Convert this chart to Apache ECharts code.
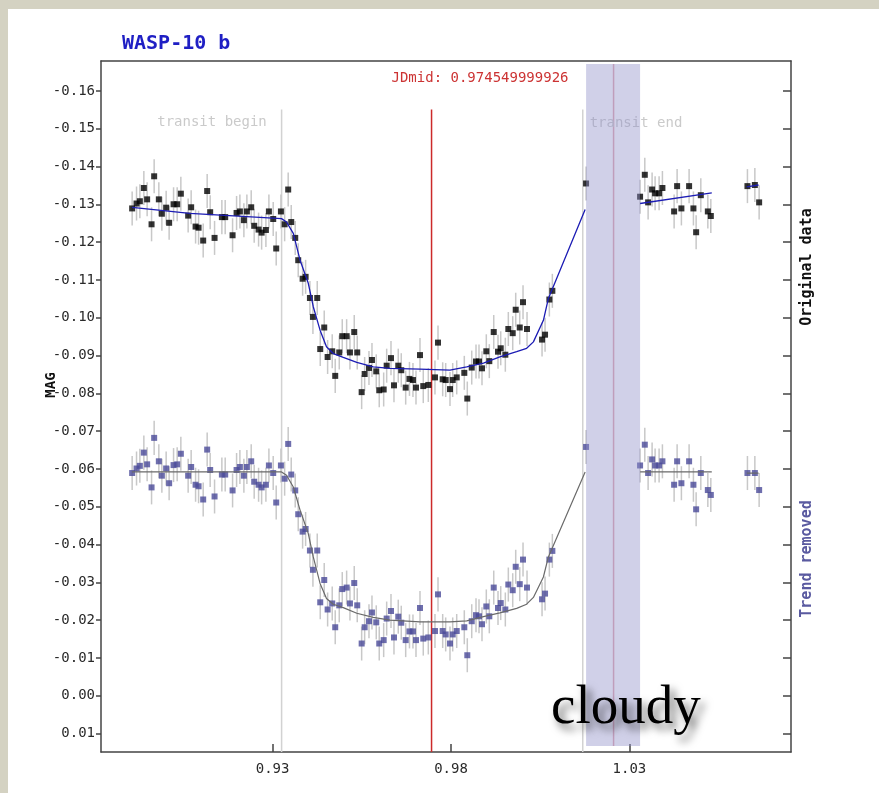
<!DOCTYPE html>
<html>
<head>
<meta charset="utf-8">
<title>WASP-10 b</title>
<script src="https://cdn.jsdelivr.net/npm/echarts@6/dist/echarts.min.js"></script>
<style>
    html, body { margin: 0; padding: 0; width: 879px; height: 793px; background: #d4d2c2; overflow: hidden; }
    #lc_con { position: absolute; left: 8px; top: 9px; width: 871px; height: 784px; background: #fff; }
</style>
</head>
<body>
<div id="lc_con"></div>
<script>
// time (JD - 2455xxx) shared by both light curves
const jd = [0.89063,0.89186,0.89279,0.89391,0.89483,0.89607,0.89680,0.89811,0.89896,0.90016,
    0.90100,0.90224,0.90325,0.90428,0.90633,0.90717,0.90841,0.90925,0.91054,0.91166,
    0.91250,0.91373,0.91578,0.91671,0.91878,0.91990,0.92083,0.92195,0.92279,0.92400,
    0.92484,0.92607,0.92692,0.92812,0.92896,0.93017,0.93101,0.93233,0.93337,0.93437,
    0.93522,0.93634,0.93718,0.93841,0.93925,0.94046,0.94130,0.94251,0.94335,0.94447,
    0.94542,0.94671,0.94755,0.94868,0.94952,0.95075,0.95168,0.95288,0.95372,0.95496,
    0.95580,0.95701,0.95785,0.95905,0.95989,0.96113,0.96197,0.96318,0.96402,0.96522,
    0.96606,0.96730,0.96836,0.96934,0.97019,0.97131,0.97223,0.97364,0.97551,0.97636,
    0.97767,0.97851,0.97972,0.98048,0.98160,0.98373,0.98457,0.98581,0.98701,0.98785,
    0.98869,0.98990,0.99074,0.99198,0.99318,0.99394,0.99523,0.99607,0.99730,0.99814,
    0.99927,1.00019,1.00131,1.00552,1.00636,1.00757,1.00841,1.01786,1.03300,1.03432,
    1.03525,1.03637,1.03721,1.03833,1.03926,1.04254,1.04338,1.04458,1.04674,1.04795,
    1.04871,1.05002,1.05199,1.05283,1.06309,1.06517,1.06637];

const magOriginal = [-0.1289,-0.1302,-0.1308,-0.1343,-0.1313,-0.1247,-0.1374,-0.1313,-0.1275,-0.1291,
    -0.1251,-0.1300,-0.1300,-0.1328,-0.1270,-0.1292,-0.1241,-0.1238,-0.1204,-0.1335,
    -0.1279,-0.1211,-0.1266,-0.1266,-0.1218,-0.1277,-0.1281,-0.1258,-0.1281,-0.1292,
    -0.1243,-0.1233,-0.1225,-0.1232,-0.1281,-0.1261,-0.1183,-0.1281,-0.1247,-0.1339,
    -0.1253,-0.1211,-0.1152,-0.1103,-0.1108,-0.1052,-0.1002,-0.1052,-0.0917,-0.0974,
    -0.0896,-0.0911,-0.0846,-0.0908,-0.0951,-0.0951,-0.0908,-0.0962,-0.0908,-0.0803,
    -0.0851,-0.0867,-0.0888,-0.0858,-0.0808,-0.0810,-0.0873,-0.0893,-0.0821,-0.0873,
    -0.0861,-0.0815,-0.0838,-0.0835,-0.0815,-0.0901,-0.0819,-0.0822,-0.0842,-0.0934,
    -0.0837,-0.0835,-0.0811,-0.0835,-0.0842,-0.0854,-0.0786,-0.0868,-0.0884,-0.0884,
    -0.0866,-0.0911,-0.0885,-0.0962,-0.0910,-0.0919,-0.0902,-0.0970,-0.0959,-0.1021,
    -0.0974,-0.1041,-0.0970,-0.0942,-0.0955,-0.1048,-0.1071,-0.1355,-0.1320,-0.1378,
    -0.1305,-0.1339,-0.1329,-0.1329,-0.1343,-0.1281,-0.1348,-0.1289,-0.1348,-0.1289,
    -0.1226,-0.1324,-0.1281,-0.1269,-0.1348,-0.1351,-0.1305];

const magDetrended = [-0.0589,-0.0601,-0.0608,-0.0643,-0.0612,-0.0551,-0.0682,-0.0620,-0.0582,-0.0601,
    -0.0562,-0.0610,-0.0612,-0.0640,-0.0582,-0.0605,-0.0558,-0.0554,-0.0519,-0.0651,
    -0.0597,-0.0527,-0.0585,-0.0585,-0.0543,-0.0597,-0.0605,-0.0582,-0.0605,-0.0620,
    -0.0566,-0.0558,-0.0551,-0.0558,-0.0609,-0.0589,-0.0511,-0.0609,-0.0574,-0.0666,
    -0.0585,-0.0543,-0.0480,-0.0434,-0.0441,-0.0384,-0.0333,-0.0384,-0.0247,-0.0306,
    -0.0228,-0.0244,-0.0181,-0.0239,-0.0282,-0.0286,-0.0244,-0.0298,-0.0239,-0.0138,
    -0.0181,-0.0197,-0.0220,-0.0194,-0.0138,-0.0147,-0.0204,-0.0224,-0.0154,-0.0209,
    -0.0193,-0.0147,-0.0170,-0.0170,-0.0147,-0.0232,-0.0151,-0.0154,-0.0171,-0.0268,
    -0.0171,-0.0162,-0.0138,-0.0162,-0.0171,-0.0181,-0.0107,-0.0197,-0.0213,-0.0210,
    -0.0189,-0.0236,-0.0210,-0.0286,-0.0232,-0.0245,-0.0228,-0.0294,-0.0279,-0.0341,
    -0.0295,-0.0360,-0.0286,-0.0255,-0.0270,-0.0360,-0.0383,-0.0658,-0.0609,-0.0664,
    -0.0589,-0.0625,-0.0609,-0.0609,-0.0620,-0.0558,-0.0620,-0.0562,-0.0620,-0.0558,
    -0.0493,-0.0589,-0.0544,-0.0531,-0.0589,-0.0589,-0.0544];

// model fits (null = gap in the curve)
const fitJd = [0.8906,0.9068,0.9325,0.9339,0.9358,0.9377,0.9400,0.9414,0.9433,0.9451,
    0.9470,0.9498,0.9536,0.9582,0.9629,0.9713,0.9797,0.9844,0.9891,0.9937,
    0.9984,1.0012,1.0031,1.0059,1.0073,1.0176,1.0250,1.0330,1.0531,1.0580,
    1.0629,1.0662];
const fitOriginal = [-0.1292,-0.1276,-0.1262,-0.1253,-0.1223,-0.1152,-0.1091,-0.1029,-0.0967,-0.0923,
    -0.0905,-0.0895,-0.0882,-0.0870,-0.0866,-0.0864,-0.0861,-0.0870,-0.0880,-0.0896,
    -0.0910,-0.0919,-0.0936,-0.0993,-0.1051,-0.1286,null,-0.1302,-0.1330,null,
    -0.1346,-0.1351];
const fitDetrended = [-0.0592,-0.0592,-0.0592,-0.0583,-0.0552,-0.0491,-0.0429,-0.0367,-0.0297,-0.0257,
    -0.0242,-0.0233,-0.0218,-0.0207,-0.0200,-0.0195,-0.0195,-0.0198,-0.0209,-0.0219,
    -0.0231,-0.0242,-0.0260,-0.0314,-0.0367,-0.0592,null,-0.0592,-0.0592,null,
    -0.0589,-0.0589];

const xTicks = [0.93, 0.98, 1.03];
const yTicks = [-0.16,-0.15,-0.14,-0.13,-0.12,-0.11,-0.10,-0.09,-0.08,-0.07,-0.06,-0.05,-0.04,-0.03,-0.02,-0.01,0.00,0.01];

const jdMid = 0.974549999926;
const transitBegin = 0.93252;
const transitEnd = 1.01693;
const cloudyFrom = 1.01786, cloudyTo = 1.03300, cloudyMark = 1.02557;
const errBar = 0.0045;

var chart = echarts.init(document.getElementById('lc_con'));

var font = '"DejaVu Sans Mono", "Liberation Mono", monospace';

function pairs(xs, ys){
    return xs.map(function(x, i){ return [x, ys[i] === null ? '-' : ys[i]]; });
}

function errorSeries(ys){
    return {
        type: 'custom',
        silent: true,
        z: 2,
        encode: {x: 0, y: 1},
        data: pairs(jd, ys),
        renderItem: function(params, api){
            var x = api.value(0), y = api.value(1);
            var p1 = api.coord([x, y - errBar]);
            var p2 = api.coord([x, y + errBar]);
            return {
                type: 'line',
                shape: {x1: p1[0], y1: p1[1], x2: p2[0], y2: p2[1]},
                style: {stroke: '#c8c8c8', lineWidth: 1.5}
            };
        }
    };
}

// vertical marker lines: [x, yTop, yBottom, colorIndex]
var vColors = ['#d2d2d2', '#cc2a2a', '#d2d2d2', '#e2a8b2'];
var vLines = [
    [transitBegin, -0.1551, 0.0149, 0],
    [jdMid, -0.1551, 0.0149, 1],
    [transitEnd, -0.1551, 0.0149, 2],
    [cloudyMark, -0.1671, 0.0133, 3]
];

var axisLineStyle = {color: '#444', width: 1.5};

const option = {
    animation: false,
    textStyle: {fontFamily: font},
    grid: {left: 93, right: 88, top: 52, bottom: 41, containLabel: false},
    xAxis: [{
        type: 'value',
        position: 'bottom',
        min: 0.8819,
        max: 1.0753,
        axisLine: {show: true, onZero: false, lineStyle: axisLineStyle},
        axisTick: {show: true, inside: true, length: 8, customValues: xTicks, lineStyle: axisLineStyle},
        axisLabel: {customValues: xTicks, color: '#2a2a2a', fontSize: 14, fontFamily: font, margin: 10,
            formatter: function(v){ return v.toFixed(2); }},
        splitLine: {show: false}
    }, {
        type: 'value',
        position: 'top',
        min: 0.8819,
        max: 1.0753,
        axisLine: {show: true, onZero: false, lineStyle: axisLineStyle},
        axisTick: {show: false},
        axisLabel: {show: false},
        splitLine: {show: false}
    }],
    yAxis: [{
        type: 'value',
        position: 'left',
        inverse: true,
        min: -0.1679,
        max: 0.0149,
        axisLine: {show: true, onZero: false, lineStyle: axisLineStyle},
        axisTick: {show: true, length: 5, customValues: yTicks, lineStyle: axisLineStyle},
        axisLabel: {customValues: yTicks, color: '#2a2a2a', fontSize: 14, fontFamily: font, margin: 6,
            formatter: function(v){ return v.toFixed(2); }},
        splitLine: {show: false}
    }, {
        type: 'value',
        position: 'right',
        inverse: true,
        min: -0.1679,
        max: 0.0149,
        axisLine: {show: true, onZero: false, lineStyle: axisLineStyle},
        axisTick: {show: true, inside: true, length: 8, customValues: yTicks, lineStyle: axisLineStyle},
        axisLabel: {show: false},
        splitLine: {show: false}
    }],
    series: [
        {
            type: 'custom',
            silent: true,
            z: 1,
            encode: {x: 0, y: 1},
            data: vLines,
            renderItem: function(params, api){
                var p1 = api.coord([api.value(0), api.value(1)]);
                var p2 = api.coord([api.value(0), api.value(2)]);
                return {
                    type: 'line',
                    shape: {x1: p1[0], y1: p1[1], x2: p2[0], y2: p2[1]},
                    style: {stroke: vColors[api.value(3)], lineWidth: 1.5}
                };
            }
        },
        errorSeries(magOriginal),
        errorSeries(magDetrended),
        {
            name: 'Original data',
            type: 'scatter',
            z: 3,
            symbol: 'rect',
            symbolSize: 6,
            itemStyle: {color: '#000'},
            data: pairs(jd, magOriginal)
        },
        {
            name: 'Trend removed',
            type: 'scatter',
            z: 3,
            symbol: 'rect',
            symbolSize: 6,
            itemStyle: {color: '#4a4a98'},
            data: pairs(jd, magDetrended)
        },
        {
            type: 'line',
            z: 4,
            showSymbol: false,
            connectNulls: false,
            lineStyle: {color: '#1c1cb4', width: 1.3},
            data: pairs(fitJd, fitOriginal)
        },
        {
            type: 'line',
            z: 4,
            showSymbol: false,
            connectNulls: false,
            lineStyle: {color: '#6a6a6a', width: 1.2},
            data: pairs(fitJd, fitDetrended)
        },
        {
            // cloudy interval
            type: 'custom',
            silent: true,
            z: 6,
            encode: {x: 0, y: 2},
            data: [[cloudyFrom, cloudyTo, -0.1671, 0.0133]],
            renderItem: function(params, api){
                var p1 = api.coord([api.value(0), api.value(2)]);
                var p2 = api.coord([api.value(1), api.value(3)]);
                return {
                    type: 'rect',
                    shape: {x: p1[0], y: p1[1], width: p2[0] - p1[0], height: p2[1] - p1[1]},
                    style: {fill: 'rgba(143,143,200,0.42)'}
                };
            }
        }
    ],
    graphic: {
        elements: [
            {type: 'text', x: 114, y: 35, z: 5, style: {text: 'WASP-10 b', fill: '#1f1fc4', fontFamily: font, fontSize: 20, fontWeight: 'bold', verticalAlign: 'middle'}},
            {type: 'text', x: 472, y: 69, z: 5, style: {text: 'JDmid: 0.974549999926', fill: '#cc3333', fontFamily: font, fontSize: 14, align: 'center', verticalAlign: 'middle'}},
            {type: 'text', x: 204, y: 113, z: 5, style: {text: 'transit begin', fill: '#cacaca', fontFamily: font, fontSize: 14, align: 'center', verticalAlign: 'middle'}},
            {type: 'text', x: 628, y: 114, z: 5, style: {text: 'transit end', fill: '#cacaca', fontFamily: font, fontSize: 14, align: 'center', verticalAlign: 'middle'}},
            {type: 'text', x: 43, y: 376, z: 5, rotation: Math.PI / 2, style: {text: 'MAG', fill: '#111', fontFamily: font, fontSize: 14, fontWeight: 'bold', align: 'center', verticalAlign: 'middle'}},
            {type: 'text', x: 799, y: 258, z: 5, rotation: Math.PI / 2, style: {text: 'Original data', fill: '#111', fontFamily: font, fontSize: 15, fontWeight: 'bold', align: 'center', verticalAlign: 'middle'}},
            {type: 'text', x: 799, y: 550, z: 5, rotation: Math.PI / 2, style: {text: 'Trend removed', fill: '#5a5aa0', fontFamily: font, fontSize: 15, fontWeight: 'bold', align: 'center', verticalAlign: 'middle'}},
            {type: 'text', x: 543, y: 700, z: 10, style: {text: 'cloudy', fill: '#000', fontFamily: '"Liberation Serif", "DejaVu Serif", serif', fontSize: 55, verticalAlign: 'middle',
                textShadowColor: 'rgba(0,0,0,0.6)', textShadowBlur: 8, textShadowOffsetX: 5, textShadowOffsetY: 6,
                shadowColor: 'rgba(0,0,0,0.6)', shadowBlur: 8, shadowOffsetX: 5, shadowOffsetY: 6}}
        ]
    }
};

chart.setOption(option);
window.addEventListener('resize', function () {
    chart.resize();
});
</script>
</body>
</html>
